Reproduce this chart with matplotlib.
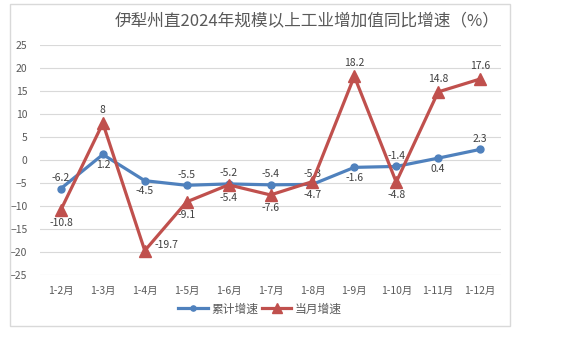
import matplotlib
matplotlib.use('Agg')
import matplotlib.pyplot as plt
from matplotlib.patches import Rectangle

plt.rcParams['font.family'] = ['Noto Sans CJK SC', 'DejaVu Sans']

months = ["1-2月", "1-3月", "1-4月", "1-5月", "1-6月", "1-7月", "1-8月", "1-9月", "1-10月", "1-11月", "1-12月"]
cumulative = [-6.2, 1.2, -4.5, -5.5, -5.2, -5.4, -5.3, -1.6, -1.4, 0.4, 2.3]
monthly = [-10.8, 8, -19.7, -9.1, -5.4, -7.6, -4.7, 18.2, -4.8, 14.8, 17.6]
# label placement: 'a' above, 'b' below, 'r' right
cum_pos = ["a", "b", "b", "a", "a", "a", "a", "b", "a", "b", "a"]
mon_pos = ["b", "a", "r", "b", "b", "b", "b", "a", "b", "a", "a"]

blue = "#4f81bd"
red = "#c0504d"
txt = "#404040"

fig = plt.figure(figsize=(5.67, 3.37), dpi=100)
fig.patches.append(Rectangle((10 / 567, 1 - 326 / 337), 500 / 567, 322 / 337,
                             transform=fig.transFigure, fill=False,
                             edgecolor="#d9d9d9", linewidth=1))
ax = fig.add_axes([40 / 567, 1 - 275 / 337, 461 / 567, 230 / 337])

x = list(range(len(months)))
ax.plot(x, cumulative, color=blue, linewidth=2.3, marker="o", markersize=5,
        label="累计增速", zorder=3)
ax.plot(x, monthly, color=red, linewidth=2.3, marker="^", markersize=9,
        label="当月增速", zorder=4)

def put_labels(vals, pos, off_y):
    for i, (v, p) in enumerate(zip(vals, pos)):
        if p == "a":
            ax.annotate(f"{v:g}", (i, v), xytext=(0, off_y), textcoords="offset points",
                        ha="center", va="bottom", fontsize=7.5, color=txt)
        elif p == "b":
            ax.annotate(f"{v:g}", (i, v), xytext=(0, -off_y), textcoords="offset points",
                        ha="center", va="top", fontsize=7.5, color=txt)
        else:
            ax.annotate(f"{v:g}", (i, v), xytext=(7, 4), textcoords="offset points",
                        ha="left", va="center", fontsize=7.5, color=txt)

put_labels(cumulative, cum_pos, 4)
put_labels(monthly, mon_pos, 6)

ax.set_xlim(-0.5, len(months) - 0.5)
ax.set_ylim(-25, 25)
ax.set_yticks(range(-25, 26, 5))
ax.set_xticks(x)
ax.set_xticklabels(months)
ax.tick_params(length=0, labelsize=7.5, colors="#595959", pad=8)
ax.tick_params(axis="y", pad=9)
ax.grid(axis="y", color="#d9d9d9", linewidth=0.8)
ax.set_axisbelow(True)
for s in ax.spines.values():
    s.set_visible(False)

fig.text(307 / 567, 1 - 22 / 337, "伊犁州直2024年规模以上工业增加值同比增速（%）",
         ha="center", va="center", fontsize=12, color="#595959")

fig.legend(loc="center", bbox_to_anchor=(260 / 567, 1 - 309 / 337), ncol=2,
           frameon=False, fontsize=8.5, handlelength=2.5, columnspacing=0.3,
           handletextpad=0.3, markerscale=0.75, labelcolor="#595959")

fig.savefig("out.png", dpi=100)
